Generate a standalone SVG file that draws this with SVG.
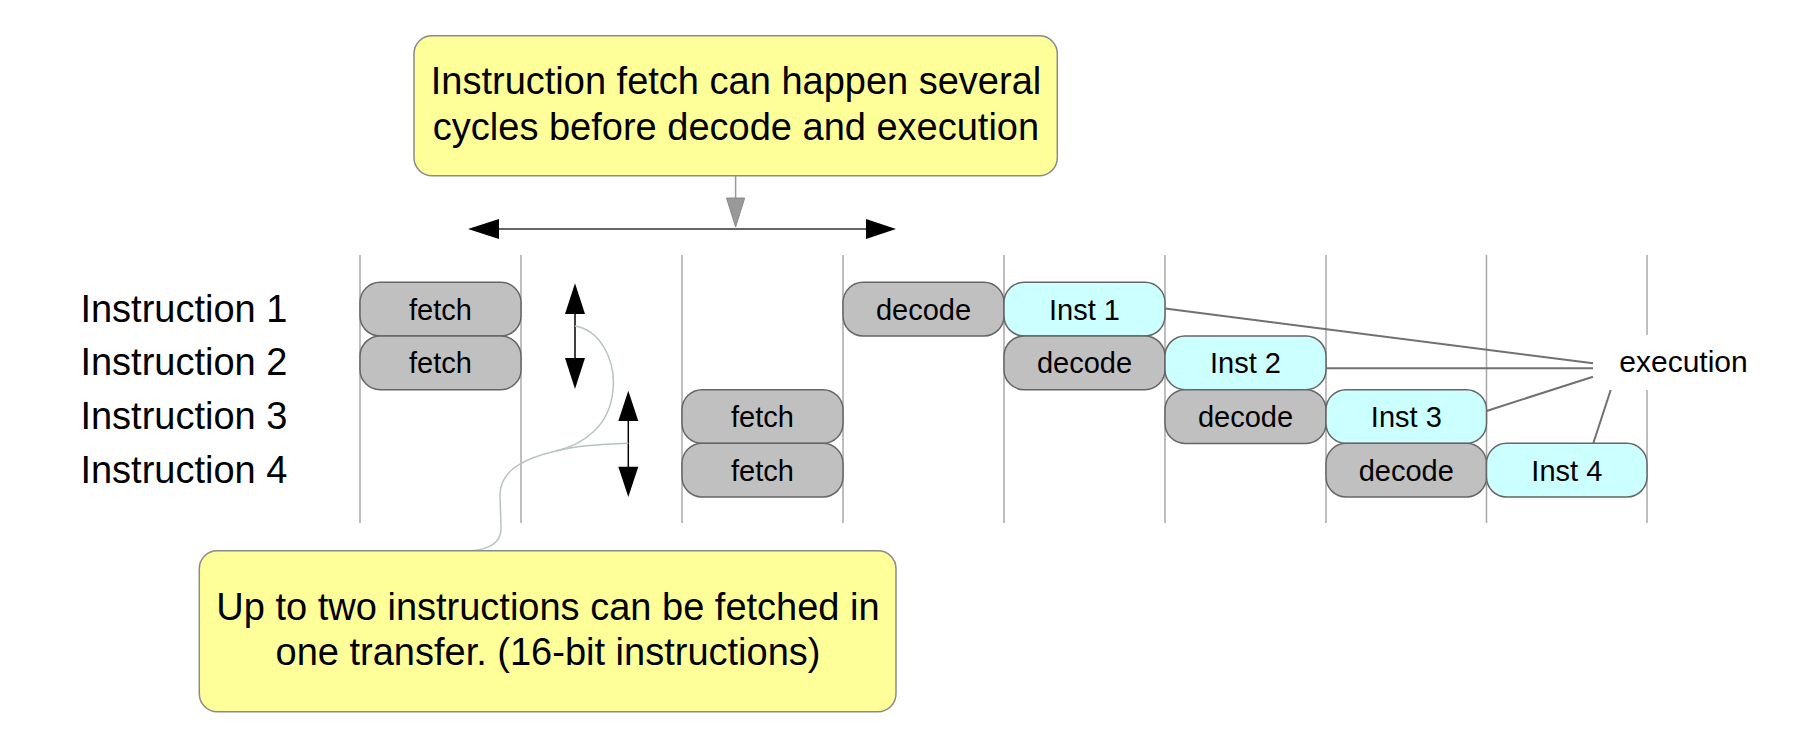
<svg xmlns="http://www.w3.org/2000/svg" width="1806" height="749" viewBox="0 0 1806 749">
<style>
  text { font-family: "Liberation Sans", Arial, sans-serif; fill: #000; }
  .grid { stroke: #a8a8a8; stroke-width: 1.5; fill: none; }
  .callout { fill: #ffff99; stroke: #8a8a8a; stroke-width: 1.5; }
  .ct { font-size: 38px; text-anchor: middle; }
  .lbl { font-size: 38px; }
  .box-g { fill: #c0c0c0; stroke: #666666; stroke-width: 1.5; }
  .box-c { fill: #ccffff; stroke: #666666; stroke-width: 1.5; }
  .bt { font-size: 29px; text-anchor: middle; }
  .exl { stroke: #707070; stroke-width: 2; fill: none; }
  .curve { stroke: #b8c2c2; stroke-width: 1.5; fill: none; }
  .dbl { stroke: #000; stroke-width: 1.5; }
  .head { fill: #000; stroke: none; }
</style>

<g id="grid">
  <line class="grid" x1="360" y1="255" x2="360" y2="523"/>
  <line class="grid" x1="521" y1="255" x2="521" y2="523"/>
  <line class="grid" x1="682" y1="255" x2="682" y2="523"/>
  <line class="grid" x1="843" y1="255" x2="843" y2="523"/>
  <line class="grid" x1="1004" y1="255" x2="1004" y2="523"/>
  <line class="grid" x1="1165" y1="255" x2="1165" y2="523"/>
  <line class="grid" x1="1326" y1="255" x2="1326" y2="523"/>
  <line class="grid" x1="1486.5" y1="255" x2="1486.5" y2="523"/>
  <line class="grid" x1="1647" y1="255" x2="1647" y2="523"/>
</g>

<g id="labels">
  <text class="lbl" x="80.4" y="321.7">Instruction 1</text>
  <text class="lbl" x="80.4" y="375.3">Instruction 2</text>
  <text class="lbl" x="80.4" y="429.1">Instruction 3</text>
  <text class="lbl" x="80.4" y="482.7">Instruction 4</text>
</g>

<g id="connectors">
  <!-- top callout pointer -->
  <line x1="735.6" y1="175.7" x2="735.6" y2="199" stroke="#999999" stroke-width="1.5"/>
  <polygon points="726.5,198 744.7,198 735.6,227" fill="#999999" stroke="#8a8a8a" stroke-width="1"/>
  <!-- horizontal double arrow -->
  <line x1="498" y1="229" x2="867" y2="229" stroke="#666666" stroke-width="2"/>
  <polygon class="head" points="468,229 499,219 499,239"/>
  <polygon class="head" points="896,229 866,219 866,239"/>
  <!-- small vertical double arrows -->
  <line class="dbl" x1="575" y1="313" x2="575" y2="359"/>
  <polygon class="head" points="575,283.3 565,314 585,314"/>
  <polygon class="head" points="575,389 565,358 585,358"/>
  <line class="dbl" x1="628.3" y1="420" x2="628.3" y2="468"/>
  <polygon class="head" points="628.3,390.7 618.3,421 638.3,421"/>
  <polygon class="head" points="628.3,497 618.3,466.7 638.3,466.7"/>
  <!-- bottom callout pointer curves -->
  <path class="curve" d="M575,326 C600,330 616,360 613,390 C610,425 585,444 556,451 C525,458 500,470 500,495 L501,527 C502,545 485,550 469,551"/>
  <path class="curve" d="M628.3,443.3 C600,444 575,446 556,451"/>
  <!-- execution lines -->
  <line class="exl" x1="1165" y1="308.6" x2="1593" y2="363.3"/>
  <line class="exl" x1="1326" y1="368.3" x2="1593" y2="368.3"/>
  <line class="exl" x1="1486.5" y1="411" x2="1593" y2="376.7"/>
  <line class="exl" x1="1593.3" y1="443.3" x2="1610.7" y2="390"/>
</g>

<g id="callout-top">
  <rect class="callout" x="414" y="35.7" width="643.3" height="140" rx="18" ry="18"/>
  <text class="ct" x="736" y="94.3">Instruction fetch can happen several</text>
  <text class="ct" x="736" y="140">cycles before decode and execution</text>
</g>

<g id="callout-bottom">
  <rect class="callout" x="199.3" y="550.7" width="696.7" height="161" rx="18" ry="18"/>
  <text class="ct" x="548" y="620">Up to two instructions can be fetched in</text>
  <text class="ct" x="548" y="665">one transfer. (16-bit instructions)</text>
</g>

<g id="row1">
  <g id="i1-fetch"><rect class="box-g" x="360" y="282.3" width="161" height="53.7" rx="20"/><text class="bt" x="440.5" y="319.5">fetch</text></g>
  <g id="i1-decode"><rect class="box-g" x="843" y="282.3" width="161" height="53.7" rx="20"/><text class="bt" x="923.5" y="319.5">decode</text></g>
  <g id="i1-exec"><rect class="box-c" x="1004" y="282.3" width="161" height="53.7" rx="20"/><text class="bt" x="1084.5" y="319.5">Inst 1</text></g>
</g>
<g id="row2">
  <g id="i2-fetch"><rect class="box-g" x="360" y="336" width="161" height="53.7" rx="20"/><text class="bt" x="440.5" y="373.2">fetch</text></g>
  <g id="i2-decode"><rect class="box-g" x="1004" y="336" width="161" height="53.7" rx="20"/><text class="bt" x="1084.5" y="373.2">decode</text></g>
  <g id="i2-exec"><rect class="box-c" x="1165" y="336" width="161" height="53.7" rx="20"/><text class="bt" x="1245.5" y="373.2">Inst 2</text></g>
</g>
<g id="row3">
  <g id="i3-fetch"><rect class="box-g" x="682" y="389.7" width="161" height="53.7" rx="20"/><text class="bt" x="762.5" y="426.9">fetch</text></g>
  <g id="i3-decode"><rect class="box-g" x="1165" y="389.7" width="161" height="53.7" rx="20"/><text class="bt" x="1245.5" y="426.9">decode</text></g>
  <g id="i3-exec"><rect class="box-c" x="1326" y="389.7" width="160.5" height="53.7" rx="20"/><text class="bt" x="1406.3" y="426.9">Inst 3</text></g>
</g>
<g id="row4">
  <g id="i4-fetch"><rect class="box-g" x="682" y="443.3" width="161" height="53.7" rx="20"/><text class="bt" x="762.5" y="480.5">fetch</text></g>
  <g id="i4-decode"><rect class="box-g" x="1326" y="443.3" width="160.5" height="53.7" rx="20"/><text class="bt" x="1406.3" y="480.5">decode</text></g>
  <g id="i4-exec"><rect class="box-c" x="1486.5" y="443.3" width="160.5" height="53.7" rx="20"/><text class="bt" x="1566.8" y="480.5">Inst 4</text></g>
</g>

<g id="execution">
  <rect x="1597" y="335" width="175" height="55" fill="#ffffff"/>
  <text x="1619.3" y="371.7" font-size="30px">execution</text>
</g>
</svg>
